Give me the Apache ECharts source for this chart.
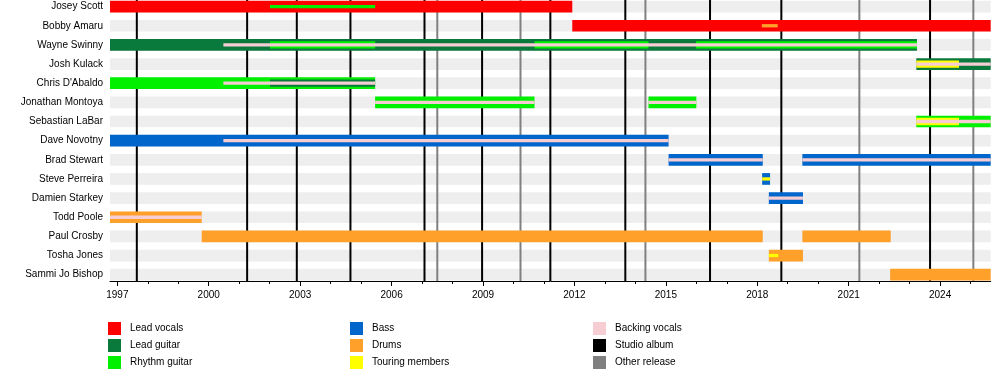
<!DOCTYPE html>
<html>
<head>
<meta charset="utf-8">
<script src="https://cdn.jsdelivr.net/npm/echarts@6/dist/echarts.min.js"></script>
<style>
html,body{margin:0;padding:0;background:#fff}
#chart{width:1000px;height:380px}
</style>
</head>
<body>
<div id="chart"></div>
<script>
// ---------- data ----------
const members = ["Josey Scott","Bobby Amaru","Wayne Swinny","Josh Kulack","Chris D'Abaldo",
  "Jonathan Montoya","Sebastian LaBar","Dave Novotny","Brad Stewart","Steve Perreira",
  "Damien Starkey","Todd Poole","Paul Crosby","Tosha Jones","Sammi Jo Bishop"];

const START = 1996.76;
const END = 2025.66;

const yearTicks = [1997,1998,1999,2000,2001,2002,2003,2004,2005,2006,2007,2008,2009,2010,
  2011,2012,2013,2014,2015,2016,2017,2018,2019,2020,2021,2022,2023,2024,2025];
const yearLabels = [1997,2000,2003,2006,2009,2012,2015,2018,2021,2024];

const roles = ["Lead vocals","Lead guitar","Rhythm guitar","Bass","Drums","Touring members","Backing vocals"];
const releaseKinds = ["Studio album","Other release"];

// main role of each period: [member, role, from, till]
const mainSpans = [
  ["Josey Scott","Lead vocals",START,2011.93],
  ["Bobby Amaru","Lead vocals",2011.93,END],
  ["Wayne Swinny","Lead guitar",START,2023.24],
  ["Josh Kulack","Lead guitar",2023.22,END],
  ["Chris D'Abaldo","Rhythm guitar",START,2005.46],
  ["Jonathan Montoya","Rhythm guitar",2005.46,2010.69],
  ["Jonathan Montoya","Rhythm guitar",2014.43,2016.0],
  ["Sebastian LaBar","Rhythm guitar",2023.22,END],
  ["Dave Novotny","Bass",START,2015.09],
  ["Brad Stewart","Bass",2015.09,2018.18],
  ["Brad Stewart","Bass",2019.48,END],
  ["Steve Perreira","Bass",2018.16,2018.42],
  ["Damien Starkey","Bass",2018.38,2019.5],
  ["Todd Poole","Drums",START,1999.77],
  ["Paul Crosby","Drums",1999.77,2018.18],
  ["Paul Crosby","Drums",2019.48,2022.38],
  ["Tosha Jones","Drums",2018.38,2019.5],
  ["Sammi Jo Bishop","Drums",2022.36,END]
];

// secondary role: [member, role, from, till]
const secondSpans = [
  ["Wayne Swinny","Rhythm guitar",2002.01,2005.46],
  ["Wayne Swinny","Rhythm guitar",2010.69,2014.43],
  ["Wayne Swinny","Rhythm guitar",2015.99,2023.24],
  ["Josh Kulack","Touring members",2023.22,2024.62],
  ["Chris D'Abaldo","Lead guitar",2002.01,2005.46],
  ["Sebastian LaBar","Touring members",2023.22,2024.62]
];

// third role (inner stripe): [member, role, from, till]
const thirdSpans = [
  ["Josey Scott","Rhythm guitar",2002.01,2005.46],
  ["Bobby Amaru","Drums",2018.15,2018.67],
  ["Wayne Swinny","Backing vocals",2000.48,2023.24],
  ["Josh Kulack","Backing vocals",2023.22,END],
  ["Chris D'Abaldo","Backing vocals",2000.48,2005.46],
  ["Jonathan Montoya","Backing vocals",2005.46,2010.69],
  ["Jonathan Montoya","Backing vocals",2014.43,2016.0],
  ["Sebastian LaBar","Backing vocals",2023.22,END],
  ["Dave Novotny","Backing vocals",2000.48,2015.09],
  ["Brad Stewart","Backing vocals",2015.09,2018.18],
  ["Brad Stewart","Backing vocals",2019.48,END],
  ["Steve Perreira","Touring members",2018.16,2018.42],
  ["Damien Starkey","Backing vocals",2018.38,2019.5],
  ["Todd Poole","Backing vocals",START,1999.77],
  ["Tosha Jones","Touring members",2018.38,2018.69]
];

const studioAlbums = [1997.64,2001.26,2002.89,2004.65,2007.08,2008.97,2011.21,2013.67,2016.45,2018.79,2023.67];
const otherReleases = [2007.50,2010.23,2014.33,2021.35,2025.09];

// ---------- styles ----------
const roleColors = {
  "Lead vocals":"#FF0000",
  "Lead guitar":"#0A7A3C",
  "Rhythm guitar":"#00F000",
  "Bass":"#0066CC",
  "Drums":"#FFA02A",
  "Touring members":"#FFFF00",
  "Backing vocals":"#F5CDD3",
  "Studio album":"#000000",
  "Other release":"#808080"
};
const layerHeights = [11.7, 7.3, 3.3];
const Y_MIN = -0.345, Y_MAX = 14.33;
const FONT = "'Liberation Sans', Arial, sans-serif";

// ---------- build ----------
const layers = [mainSpans, secondSpans, thirdSpans];

function spanRenderer(params, api) {
  const row = api.value(2);
  const layer = api.value(3);
  const a = api.coord([api.value(0), row]);
  const b = api.coord([api.value(1), row]);
  const h = layerHeights[layer];
  return {
    type: 'rect',
    shape: { x: a[0], y: a[1] - h / 2, width: b[0] - a[0], height: h },
    style: { fill: api.visual('color') },
    z2: layer * 10
  };
}

const series = [];

// row background bands
series.push({
  type: 'custom', name: 'rows', z: 1, silent: true,
  data: members.map((m, i) => [START, END, i]),
  encode: { x: [0, 1], y: 2 },
  renderItem: (params, api) => {
    const row = api.value(2);
    const a = api.coord([api.value(0), row]);
    const b = api.coord([api.value(1), row]);
    const h = layerHeights[0];
    return { type: 'rect', shape: { x: a[0], y: a[1] - h / 2, width: b[0] - a[0], height: h }, style: { fill: '#EEEEEE' } };
  }
});

// release lines
[[releaseKinds[0], studioAlbums], [releaseKinds[1], otherReleases]].forEach(([name, list]) => {
  series.push({
    type: 'custom', name: name, z: 2, silent: true,
    itemStyle: { color: roleColors[name] },
    data: list.map(v => [v, Y_MIN, Y_MAX]),
    encode: { x: 0, y: [1, 2] },
    renderItem: (params, api) => {
      const t = api.coord([api.value(0), api.value(1)]);
      const b = api.coord([api.value(0), api.value(2)]);
      return { type: 'line', shape: { x1: t[0], y1: t[1], x2: b[0], y2: b[1] }, style: { stroke: api.visual('color'), lineWidth: 2 } };
    }
  });
});

// role series
roles.forEach(role => {
  const data = [];
  layers.forEach((list, li) => {
    list.forEach(s => {
      if (s[1] === role) data.push([s[2], s[3], members.indexOf(s[0]), li]);
    });
  });
  series.push({
    type: 'custom', name: role, z: 3, silent: true, clip: true,
    itemStyle: { color: roleColors[role] },
    data: data,
    encode: { x: [0, 1], y: 2 },
    renderItem: spanRenderer
  });
});

const legendBase = {
  orient: 'vertical', icon: 'rect', itemWidth: 13, itemHeight: 13, itemGap: 4,
  padding: 0, top: 322, selectedMode: false,
  textStyle: { fontSize: 10, color: '#000', fontFamily: FONT, padding: [0, 0, 0, 4] }
};

const option = {
  animation: false,
  backgroundColor: '#fff',
  textStyle: { fontFamily: FONT },
  grid: { left: 110, right: 9.3, top: 0, bottom: 99, containLabel: false },
  legend: [
    Object.assign({}, legendBase, { left: 108, data: [roles[0], roles[1], roles[2]] }),
    Object.assign({}, legendBase, { left: 350, data: [roles[3], roles[4], roles[5]] }),
    Object.assign({}, legendBase, { left: 593, data: [roles[6], releaseKinds[0], releaseKinds[1]] })
  ],
  xAxis: [{
    type: 'value', min: START, max: END, position: 'bottom',
    axisLine: { show: true, onZero: false, lineStyle: { color: '#000', width: 1 } },
    axisTick: { show: true, customValues: yearLabels, length: 5, lineStyle: { color: '#000' } },
    axisLabel: { customValues: yearLabels, formatter: v => String(v), fontSize: 10, color: '#000', margin: 9, fontFamily: FONT },
    splitLine: { show: false }
  }, {
    type: 'value', min: START, max: END, position: 'bottom',
    axisLine: { show: false, onZero: false },
    axisTick: { show: true, customValues: yearTicks, length: 3, lineStyle: { color: '#000' } },
    axisLabel: { show: false },
    splitLine: { show: false }
  }],
  yAxis: {
    type: 'value', inverse: true, min: Y_MIN, max: Y_MAX,
    axisLine: { show: false, onZero: false },
    axisTick: { show: false },
    splitLine: { show: false },
    axisLabel: {
      customValues: members.map((m, i) => i),
      formatter: v => members[Math.round(v)],
      fontSize: 10, color: '#000', margin: 7, fontFamily: FONT
    }
  },
  series: series
};

const chart = echarts.init(document.getElementById('chart'), null, { renderer: 'canvas' });
chart.setOption(option);
</script>
</body>
</html>
